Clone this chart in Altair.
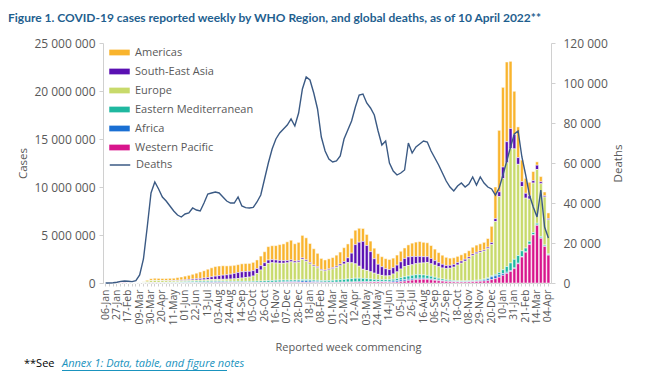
import altair as alt
import pandas as pd

# weekly categories (week commencing, Mondays)
weeks = pd.date_range("2020-01-06", "2022-04-04", freq="7D").strftime("%Y-%m-%d").tolist()

regions = ["Americas", "South-East Asia", "Europe", "Eastern Mediterranean", "Africa", "Western Pacific"]
region_colors = ["#F9B42D", "#5A10B2", "#C8DA6B", "#1FB8A0", "#1A6FD3", "#D8158C"]
stack_rank = [5, 4, 3, 2, 1, 0]  # Western Pacific at the bottom

# weekly cases, thousands
western_pacific = [0, 0.1, 1, 10, 20, 25, 8, 3, 2.5, 2, 3, 5, 8, 9, 7, 4, 2, 2, 1.5, 1.5,
                   2, 3, 5, 6, 7, 8, 10, 14, 18, 22, 27, 30, 28, 25, 22, 20, 18, 16, 15, 14,
                   14, 15, 16, 18, 22, 30, 40, 45, 50, 50, 48, 50, 55, 55, 45, 35, 30, 25, 22, 22,
                   22, 24, 28, 35, 45, 55, 65, 70, 75, 80, 90, 100, 100, 90, 80, 70, 75, 100, 140, 190,
                   240, 300, 350, 380, 390, 380, 330, 280, 230, 190, 160, 130, 110, 100, 95, 100, 110, 130, 150, 170,
                   200, 230, 350, 450, 600, 800, 1000, 1200, 1500, 2000, 2700, 3200, 4000, 5000, 6000, 4650, 3800, 2900]
africa = [0, 0, 0, 0, 0, 0, 0, 0, 0, 0, 0.5, 1, 2, 3, 4, 5, 7, 9, 12, 15,
          18, 22, 28, 35, 45, 55, 65, 80, 95, 100, 95, 85, 75, 60, 50, 45, 40, 35, 33, 35,
          38, 40, 42, 45, 50, 55, 60, 70, 80, 95, 110, 130, 160, 165, 150, 125, 105, 85, 70, 60,
          55, 55, 55, 55, 55, 50, 50, 48, 45, 45, 45, 45, 50, 60, 75, 100, 130, 160, 175, 170,
          150, 140, 130, 120, 110, 100, 90, 80, 65, 55, 45, 40, 35, 30, 30, 30, 30, 32, 45, 70,
          120, 200, 300, 300, 250, 180, 120, 90, 70, 60, 50, 40, 40, 40, 40, 40, 40, 30]
eastern_med = [0, 0, 0, 0, 0, 0, 0, 0.5, 3, 8, 15, 22, 28, 32, 35, 40, 45, 55, 65, 80,
               95, 110, 125, 130, 130, 125, 120, 115, 110, 100, 95, 95, 95, 95, 100, 105, 110, 115, 120, 130,
               140, 150, 160, 175, 190, 200, 200, 190, 170, 160, 150, 145, 145, 145, 140, 140, 145, 150, 160, 180,
               200, 230, 260, 290, 320, 350, 380, 380, 360, 330, 280, 230, 200, 190, 180, 180, 185, 200, 240, 290,
               330, 360, 380, 370, 340, 310, 280, 240, 200, 170, 140, 120, 105, 95, 90, 90, 90, 90, 90, 90,
               95, 100, 100, 150, 250, 400, 600, 800, 900, 800, 600, 400, 300, 220, 180, 150, 120, 100]
europe = [0, 0, 0, 0, 0, 0, 0, 1, 4, 20, 90, 160, 200, 220, 200, 190, 170, 160, 140, 130,
          120, 115, 110, 115, 120, 125, 130, 135, 140, 150, 160, 175, 195, 230, 260, 300, 350, 400, 450, 550,
          800, 1150, 1500, 1800, 1850, 1800, 1750, 1750, 1800, 1900, 1800, 1850, 2100, 1900, 1650, 1450, 1300, 1050, 1000, 1100,
          1200, 1300, 1450, 1600, 1700, 1650, 1500, 1250, 950, 850, 750, 650, 550, 450, 400, 400, 550, 700, 900, 1050,
          1100, 1100, 1150, 1200, 1250, 1350, 1300, 1250, 1200, 1150, 1150, 1250, 1400, 1650, 1850, 2050, 2300, 2600, 2750, 2850,
          2900, 3050, 3250, 5500, 7900, 9500, 10800, 11900, 11500, 9500, 6700, 5200, 4400, 5150, 5600, 5500, 5000, 3550]
south_east_asia = [0, 0, 0, 0, 0, 0, 0, 0, 0, 0, 1, 3, 6, 10, 14, 18, 22, 30, 40, 55,
                   70, 85, 100, 120, 140, 160, 190, 230, 280, 340, 390, 430, 460, 510, 560, 620, 650, 630, 600, 560,
                   510, 450, 390, 350, 320, 310, 300, 270, 240, 200, 180, 160, 150, 140, 130, 120, 110, 100, 100, 110,
                   120, 140, 180, 250, 500, 1000, 2000, 2500, 2900, 2600, 2100, 1500, 1050, 900, 750, 650, 650, 700, 750, 850,
                   900, 850, 750, 700, 650, 600, 550, 480, 420, 380, 330, 300, 280, 250, 220, 200, 180, 170, 160, 150,
                   120, 150, 200, 300, 500, 1200, 2200, 2100, 1500, 700, 500, 500, 350, 250, 450, 200, 120, 120]
americas = [0, 0, 0, 0, 0, 0, 0, 0, 0.5, 5, 40, 120, 200, 220, 220, 210, 220, 230, 240, 280,
            320, 380, 430, 500, 580, 680, 760, 860, 940, 1000, 1000, 980, 930, 870, 850, 820, 830, 830, 820, 860,
            900, 1000, 1150, 1400, 1450, 1500, 1650, 1750, 1950, 2050, 1800, 1900, 2350, 2300, 2000, 1700, 1400, 1150, 1050, 1050,
            1050, 1150, 1250, 1450, 1450, 1550, 1500, 1450, 1350, 1150, 1100, 1100, 1100, 1050, 1050, 1050, 1000, 1050, 1100, 1100,
            1250, 1400, 1500, 1550, 1500, 1450, 1350, 1200, 1050, 950, 850, 750, 700, 650, 650, 650, 650, 700, 750, 750,
            800, 900, 1700, 3300, 6400, 8300, 8300, 7000, 4500, 3200, 2250, 1550, 1400, 950, 350, 550, 400, 600]

# weekly global deaths
deaths = [0, 20, 150, 400, 800, 1000, 900, 700, 1200, 4000, 12000, 28000, 45000, 50500, 47000, 43000, 41000, 38500, 36000, 34000,
          33000, 34500, 35000, 37500, 36500, 36000, 40000, 44500, 45000, 45500, 45000, 43000, 41000, 40000, 40000, 43000, 38500, 37700, 37500, 37800,
          40500, 44000, 52000, 60000, 67000, 72000, 75000, 77000, 79000, 82000, 78500, 85000, 97000, 103000, 101500, 95000, 87000, 73000, 66000, 62000,
          60500, 61000, 63500, 72000, 76500, 81000, 88000, 94000, 94500, 90000, 87500, 84000, 76000, 69000, 71000, 60000, 56000, 54000, 55000, 56500,
          70000, 65000, 68000, 69500, 71000, 70500, 66000, 62500, 59000, 55000, 51000, 48000, 46000, 48500, 50000, 48000, 49500, 53000, 49000, 53000,
          50000, 48000, 47000, 44000, 47500, 54000, 61000, 68000, 74500, 76000, 63000, 54000, 44000, 38000, 33000, 46500, 28000, 22500]

series_k = {"Western Pacific": western_pacific, "Africa": africa, "Eastern Mediterranean": eastern_med,
            "Europe": europe, "South-East Asia": south_east_asia, "Americas": americas}

rows = []
for r, rank in zip(regions, stack_rank):
    for w, v in zip(weeks, series_k[r]):
        rows.append({"week": w, "region": r, "rank": rank, "cases": v * 1000})
cases_df = pd.DataFrame(rows)
deaths_df = pd.DataFrame({"week": weeks, "deaths": deaths, "series": "Deaths"})

GREY = "#595959"
AXIS_LINE = "#D0D0D0"
FONT = "Open Sans"

label_expr = ("(round((toDate(datum.value) - toDate('2020-01-06')) / 604800000) % 3 == 0) "
              "? utcFormat(toDate(datum.value), '%d-%b') : ''")

x_enc = alt.X("week:O",
              scale=alt.Scale(paddingInner=0.22, paddingOuter=0.3),
              axis=alt.Axis(title="Reported week commencing", labelExpr=label_expr, labelAngle=270,
                            labelOverlap=False, labelFontSize=10.5, labelColor=GREY, labelPadding=3,
                            tickSize=3, tickColor=AXIS_LINE, domainColor=AXIS_LINE,
                            titleFontSize=11, titleColor=GREY, titleFontWeight="normal", titlePadding=17,
                            titleX=245))

bar_legend = alt.Legend(orient="none", legendX=6, legendY=-1, title=None, padding=0,
                        symbolType="M-1,-0.28L1,-0.28L1,0.28L-1,0.28Z", symbolSize=420,
                        symbolStrokeWidth=0, labelFontSize=11, labelColor=GREY, labelFont=FONT,
                        rowPadding=3, labelOffset=5)

bars = alt.Chart(cases_df).mark_bar(stroke="white", strokeWidth=0.5).encode(
    x=x_enc,
    y=alt.Y("sum(cases):Q", stack="zero",
            scale=alt.Scale(domain=[0, 25000000]),
            axis=alt.Axis(title="Cases", values=[0, 5000000, 10000000, 15000000, 20000000, 25000000],
                          format=",d", grid=False, labelFontSize=12, labelColor=GREY, labelPadding=4,
                          tickColor=AXIS_LINE, domainColor=AXIS_LINE, tickSize=4,
                          titleFontSize=11.5, titleColor=GREY, titleFontWeight="normal", titlePadding=5)),
    fill=alt.Fill("region:N", scale=alt.Scale(domain=regions, range=region_colors), legend=bar_legend),
    order=alt.Order("rank:Q", sort="ascending"),
)

line_legend = alt.Legend(orient="none", legendX=6, legendY=111, title=None, padding=0,
                         symbolType="stroke", symbolSize=420, symbolStrokeWidth=1.5,
                         labelFontSize=11, labelColor=GREY, labelFont=FONT, labelOffset=5)

line = alt.Chart(deaths_df).mark_line(strokeWidth=1.4).encode(
    x=alt.X("week:O"),
    y=alt.Y("deaths:Q", scale=alt.Scale(domain=[0, 120000]),
            axis=alt.Axis(orient="right", title="Deaths", values=[0, 20000, 40000, 60000, 80000, 100000, 120000],
                          format=",d", grid=False, labelFontSize=12, labelColor=GREY, labelPadding=8,
                          tickColor=AXIS_LINE, domainColor=AXIS_LINE, tickSize=4, titleAngle=270,
                          titleFontSize=11.5, titleColor=GREY, titleFontWeight="normal", titlePadding=16)),
    stroke=alt.Stroke("series:N", scale=alt.Scale(domain=["Deaths"], range=["#3B5A84"]), legend=line_legend),
)

note_df = pd.DataFrame({"a": [0]})
note1 = alt.Chart(note_df).mark_text(align="left", baseline="alphabetic", fontSize=11, font=FONT, color="#000000").encode(
    x=alt.value(-79), y=alt.value(324), text=alt.value("**See"))
note2 = alt.Chart(note_df).mark_text(align="left", baseline="alphabetic", fontSize=11, font=FONT,
                                     fontStyle="italic", color="#1A93BE").encode(
    x=alt.value(-41), y=alt.value(324), text=alt.value("Annex 1: Data, table, and figure notes"))
underline = alt.Chart(note_df).mark_rule(color="#1A93BE", strokeWidth=1).encode(
    x=alt.value(-41), x2=alt.value(124), y=alt.value(327.5))

chart = alt.layer(bars, line, note1, note2, underline).resolve_scale(y="independent").properties(
    width=448, height=240,
    autosize=alt.AutoSizeParams(type="none"),
    padding={"left": 95, "top": 35, "right": 90, "bottom": 92},
    title=alt.TitleParams(
        text="Figure 1. COVID-19 cases reported weekly by WHO Region, and global deaths, as of 10 April 2022**",
        anchor="start", frame="group", dx=-95, font="Lato", fontSize=12, fontWeight="bold",
        color="#1F5F8F", offset=12),
).configure(
    locale={"number": {"decimal": ".", "thousands": " ", "grouping": [3], "currency": ["", ""]}},
    font=FONT,
).configure_view(stroke=None)

chart.save("out.html", embed_options={"renderer": "svg", "actions": False})
